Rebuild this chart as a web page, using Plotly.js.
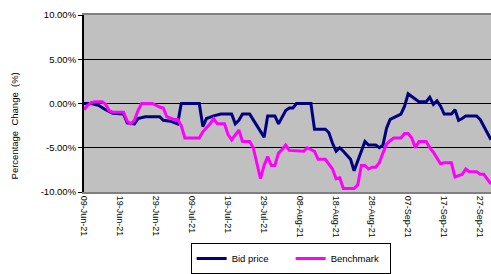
<!DOCTYPE html>
<html>
<head>
<meta charset="utf-8">
<script src="https://cdn.plot.ly/plotly-3.0.1.min.js"></script>
<style>html,body{margin:0;padding:0;background:#fff;}#chart{width:491px;height:274px;}</style>
</head>
<body>
<div id="chart"></div>
<script>
var bidDates = ['2021-06-09','2021-06-11','2021-06-13','2021-06-15','2021-06-17','2021-06-20','2021-06-21','2021-06-23','2021-06-24','2021-06-26','2021-06-30','2021-07-01','2021-07-03','2021-07-05','2021-07-06','2021-07-11','2021-07-12','2021-07-13','2021-07-15','2021-07-17','2021-07-20','2021-07-21','2021-07-22','2021-07-23','2021-07-25','2021-07-29','2021-07-30','2021-08-01','2021-08-02','2021-08-04','2021-08-05','2021-08-06','2021-08-07','2021-08-11','2021-08-12','2021-08-15','2021-08-16','2021-08-17','2021-08-18','2021-08-19','2021-08-20','2021-08-21','2021-08-22','2021-08-23','2021-08-24','2021-08-25','2021-08-26','2021-08-27','2021-08-29','2021-08-30','2021-08-31','2021-09-01','2021-09-02','2021-09-04','2021-09-05','2021-09-06','2021-09-07','2021-09-08','2021-09-09','2021-09-10','2021-09-12','2021-09-13','2021-09-14','2021-09-15','2021-09-16','2021-09-17','2021-09-19','2021-09-20','2021-09-21','2021-09-22','2021-09-23','2021-09-26','2021-09-27','2021-09-28','2021-09-29','2021-09-30'];
var bidValues = [0.0,0.0,-0.2,-0.7,-1.1,-1.2,-2.2,-2.3,-1.7,-1.5,-1.5,-1.9,-2.0,-2.3,0.0,0.0,-2.6,-1.7,-1.4,-1.2,-1.2,-2.3,-1.9,-1.2,-1.2,-3.8,-1.4,-1.4,-2.3,-0.8,-0.5,-0.5,0.0,0.0,-2.9,-2.9,-3.3,-4.5,-5.4,-5.0,-5.4,-5.9,-6.3,-7.6,-6.5,-5.5,-4.3,-4.7,-4.7,-5.0,-4.7,-2.8,-1.8,-1.4,-1.2,-0.3,1.1,0.8,0.5,0.2,0.2,0.7,-0.1,0.3,-0.3,-1.2,-1.2,-0.7,-1.9,-1.7,-1.4,-1.4,-1.8,-2.6,-3.4,-4.1];

var benchDates = ['2021-06-09','2021-06-10','2021-06-11','2021-06-12','2021-06-14','2021-06-15','2021-06-16','2021-06-17','2021-06-20','2021-06-21','2021-06-22','2021-06-23','2021-06-24','2021-06-25','2021-06-28','2021-06-30','2021-07-01','2021-07-02','2021-07-04','2021-07-05','2021-07-06','2021-07-07','2021-07-11','2021-07-12','2021-07-14','2021-07-15','2021-07-16','2021-07-18','2021-07-19','2021-07-20','2021-07-22','2021-07-23','2021-07-25','2021-07-26','2021-07-28','2021-07-29','2021-07-30','2021-07-31','2021-08-01','2021-08-02','2021-08-03','2021-08-04','2021-08-05','2021-08-09','2021-08-10','2021-08-12','2021-08-13','2021-08-15','2021-08-17','2021-08-18','2021-08-19','2021-08-20','2021-08-23','2021-08-24','2021-08-25','2021-08-26','2021-08-27','2021-08-28','2021-08-29','2021-08-30','2021-08-31','2021-09-01','2021-09-02','2021-09-03','2021-09-05','2021-09-06','2021-09-07','2021-09-08','2021-09-09','2021-09-10','2021-09-12','2021-09-13','2021-09-14','2021-09-16','2021-09-17','2021-09-19','2021-09-20','2021-09-22','2021-09-23','2021-09-24','2021-09-26','2021-09-27','2021-09-28','2021-09-29','2021-09-30'];
var benchValues = [-0.7,-0.2,0.1,0.2,0.2,-0.1,-0.8,-1.0,-1.0,-2.0,-2.3,-1.9,-0.8,0.0,0.0,-0.4,-0.5,-1.5,-1.8,-1.8,-2.5,-3.9,-3.9,-3.2,-2.3,-1.7,-2.3,-2.3,-3.5,-4.1,-3.0,-4.3,-4.3,-5.0,-8.5,-7.0,-6.0,-7.0,-7.0,-5.6,-5.2,-4.7,-5.3,-5.4,-5.0,-5.4,-6.3,-6.3,-7.4,-8.5,-8.4,-9.6,-9.6,-9.2,-7.0,-7.0,-7.4,-7.2,-7.2,-6.7,-5.6,-4.6,-4.2,-3.9,-3.9,-3.4,-3.4,-3.9,-5.0,-4.3,-4.3,-5.0,-5.5,-6.8,-6.7,-6.7,-8.3,-8.0,-7.4,-7.7,-7.7,-8.0,-8.0,-8.6,-9.1];

var yTickVals = [-10, -5, 0, 5, 10];
var yTickText = ['-10.00%', '-5.00%', '0.00%', '5.00%', '10.00%'];
var seriesNames = ['Bid price', 'Benchmark'];
var yTitle = 'Percentage\u00a0 Change\u00a0 (%)';
var xRange = ['2021-06-09', '2021-09-30'];

var FONT = 'Liberation Sans, Arial, sans-serif';
var DAY10 = 10 * 24 * 3600 * 1000;

var traces = [
  {x: bidDates, y: bidValues, name: seriesNames[0], type: 'scatter', mode: 'lines',
   line: {color: '#000080', width: 3}},
  {x: benchDates, y: benchValues, name: seriesNames[1], type: 'scatter', mode: 'lines',
   line: {color: '#ff00ff', width: 3}}
];

var layout = {
  width: 491, height: 274,
  margin: {l: 84, r: 0, t: 15, b: 75, pad: 0},
  paper_bgcolor: '#ffffff',
  plot_bgcolor: '#c0c0c0',
  font: {family: FONT, size: 9.5, color: '#000'},
  showlegend: true,
  legend: {
    orientation: 'h', x: 0.262, xanchor: 'left', y: -0.288, yanchor: 'top',
    bordercolor: '#000', borderwidth: 1, bgcolor: '#fff',
    font: {family: FONT, size: 9.5, color: '#000'},
    entrywidth: 54, entrywidthmode: 'pixels'
  },
  xaxis: {
    type: 'date', range: xRange,
    tick0: '2021-06-09', dtick: DAY10, tickformat: '%d-%b-%y',
    tickangle: 90, ticks: '', showgrid: false, zeroline: false,
    showline: true, linecolor: '#808080', linewidth: 2, mirror: true,
    tickfont: {family: FONT, size: 9, color: '#000'},
    fixedrange: true
  },
  xaxis2: {
    type: 'date', range: xRange, overlaying: 'x', anchor: 'free', position: 0.5,
    tick0: '2021-06-09', dtick: DAY10, ticks: 'outside', ticklen: 3, tickwidth: 1, tickcolor: '#000',
    showticklabels: false, showgrid: false, zeroline: false,
    showline: true, linecolor: '#000', linewidth: 1.5, side: 'bottom'
  },
  yaxis: {
    range: [-10, 10], tickvals: yTickVals, ticktext: yTickText,
    ticks: 'outside', ticklen: 4, tickcolor: '#000',
    showgrid: true, gridcolor: '#000', gridwidth: 1,
    zeroline: false, showline: true, linecolor: '#000', linewidth: 2,
    tickfont: {family: FONT, size: 9.5, color: '#000'},
    fixedrange: true
  },
  annotations: [{
    text: yTitle, xref: 'paper', yref: 'paper', x: -0.17, y: 0.375,
    xanchor: 'center', yanchor: 'middle', textangle: -90, showarrow: false,
    font: {family: FONT, size: 9.5, color: '#000'}
  }]
};

Plotly.newPlot('chart', traces, layout, {staticPlot: true, displayModeBar: false});
</script>
</body>
</html>
